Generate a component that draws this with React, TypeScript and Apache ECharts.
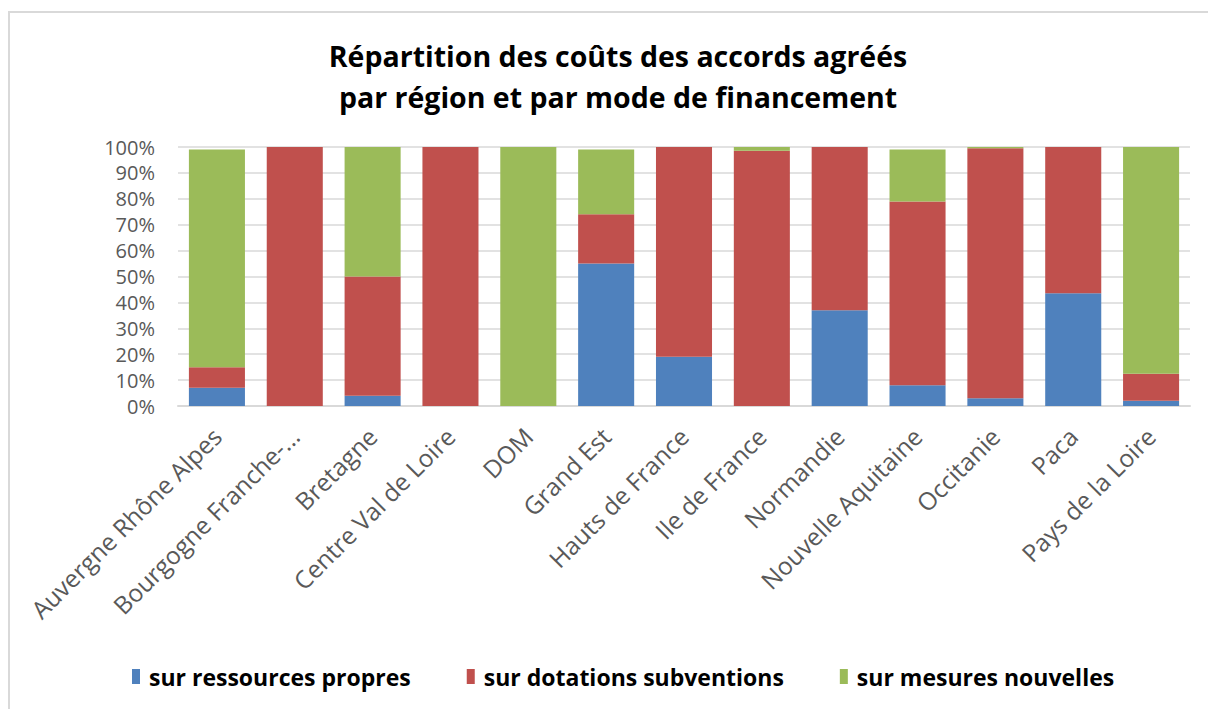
import React, { useEffect, useRef } from "react";
import * as echarts from "echarts";

const regions = [
  "Auvergne Rhône Alpes",
  "Bourgogne Franche-Comté",
  "Bretagne",
  "Centre Val de Loire",
  "DOM",
  "Grand Est",
  "Hauts de France",
  "Ile de France",
  "Normandie",
  "Nouvelle Aquitaine",
  "Occitanie",
  "Paca",
  "Pays de la Loire",
];

const ressourcesPropres = [7, 0, 4, 0, 0, 55, 19, 0, 37, 8, 3, 43.5, 2];
const dotationsSubventions = [8, 100, 46, 100, 0, 19, 81, 98.6, 63, 71, 96.5, 56.5, 10.5];
const mesuresNouvelles = [84, 0, 50, 0, 100, 25, 0, 1.4, 0, 20, 0.5, 0, 87.5];

const seriesNames = ["sur ressources propres", "sur dotations subventions", "sur mesures nouvelles"];
const colors = ["#4f81bd", "#c0504d", "#9bbb59"];

const titleLines = ["Répartition des coûts des accords agréés", "par région et par mode de financement"];

export default function App() {
  const ref = useRef<HTMLDivElement>(null);
  useEffect(() => {
    document.body.style.margin = "0";
    const chart = echarts.init(ref.current!, null, { renderer: "svg" });
    const font = "'Open Sans', sans-serif";
    const data = [ressourcesPropres, dotationsSubventions, mesuresNouvelles];
    chart.setOption({
      animation: false,
      textStyle: { fontFamily: font },
      graphic: [
        {
          type: "rect",
          shape: { x: 9, y: 12, width: 1250, height: 750 },
          style: { fill: "none", stroke: "#d9d9d9", lineWidth: 2 },
          silent: true,
        },
      ],
      title: {
        text: titleLines.join("\n"),
        left: 613,
        top: 30,
        textAlign: "center",
        textStyle: { fontFamily: font, fontSize: 28.5, fontWeight: "bold", color: "#000", lineHeight: 41 },
      },
      legend: {
        data: seriesNames,
        left: 127,
        top: 660,
        itemWidth: 8,
        itemHeight: 15,
        itemGap: 56,
        icon: "rect",
        textStyle: { fontFamily: font, fontSize: 23, fontWeight: "bold", color: "#000", padding: [0, 0, 0, 4] },
      },
      grid: { left: 178, right: 18, top: 147, bottom: 303, containLabel: false },
      xAxis: {
        type: "category",
        data: regions,
        axisLine: { lineStyle: { color: "#d9d9d9", width: 2 } },
        axisTick: { show: false },
        axisLabel: {
          interval: 0,
          rotate: 45,
          fontSize: 24.5,
          color: "#595959",
          fontFamily: font,
          margin: 26,
          formatter: (v: string) => (v.length > 20 ? v.slice(0, 18) + "..." : v),
        },
      },
      yAxis: {
        type: "value",
        min: 0,
        max: 100,
        interval: 10,
        axisLine: { show: false },
        axisTick: { show: false },
        splitLine: { lineStyle: { color: "#d9d9d9", width: 1.5 } },
        axisLabel: { formatter: "{value}%", fontSize: 20, color: "#595959", fontFamily: font, margin: 23 },
      },
      series: seriesNames.map((name, i) => ({
        name,
        type: "bar",
        stack: "total",
        barCategoryGap: "28%",
        data: data[i],
        itemStyle: { color: colors[i] },
      })),
    });
    return () => chart.dispose();
  }, []);
  return <div ref={ref} style={{ width: 1208, height: 709 }} />;
}
